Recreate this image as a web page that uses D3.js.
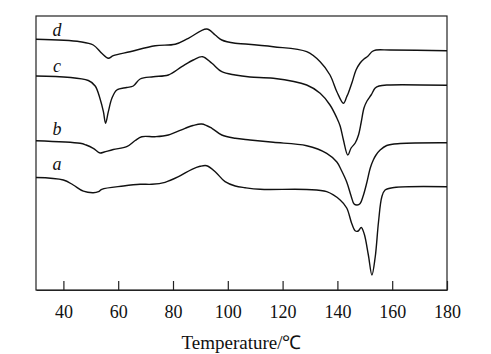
<!DOCTYPE html>
<html lang="en">
	<head>
		<meta charset="utf-8">
		<title>D3: DSC curves</title>
		<script src="https://d3js.org/d3.v7.min.js"></script>
		<style type="text/css">
			body { margin: 0; background: #fff; }
			text { font-family: "Liberation Serif", "Times New Roman", serif; fill: #111; }
		</style>
	</head>
	<body>
		<script type="text/javascript">

			// temperature (°C) and heat flow (a.u., curves stacked)
			var tempA = [30, 40.0, 43.6, 47.3, 50.9, 52.8, 54.0, 61.9, 68.0, 72.3, 77.1, 82.0, 86.9, 89.9, 92.3, 95.4, 99.0, 102.7, 106.3, 111.8, 128.8, 136.1, 141.0, 143.4, 145.3, 146.6, 147.6, 148.7, 149.8, 151.3, 152.6, 153.8, 155.0, 156.2, 157.4, 160.7, 180];
			var flowA = [112.5, 110, 105, 98.8, 97.3, 98.3, 100.7, 104, 105.7, 105.7, 107.7, 113.3, 120.7, 123.7, 124.3, 118.3, 108.3, 104, 102.3, 100.7, 100.5, 98.3, 90, 82, 66, 59, 59, 62.5, 56, 35, 15, 33, 68, 93, 100, 102.5, 103.3];

			var tempB = [30, 46.1, 48.3, 50.9, 53.4, 54.9, 58.2, 63.1, 66.2, 68.6, 73.5, 78.3, 84.4, 87.3, 90.5, 94.2, 97.8, 102.7, 108.1, 116.6, 128.8, 136.1, 139.8, 141.4, 143.4, 145.0, 146.1, 147.2, 148.3, 149.4, 150.7, 152.0, 153.1, 154.1, 155.6, 158.0, 162.9, 180];
			var flowB = [149.3, 146.7, 145, 141.7, 137, 138, 140.5, 143.3, 149.5, 153.3, 153.3, 155, 161.7, 164.5, 166, 161.7, 155, 151.7, 150, 147.7, 144.3, 136.7, 128, 120, 108, 94, 86, 85, 86.5, 94, 107, 122, 130, 135, 140, 144.5, 146.5, 147.3];

			var tempC = [30, 49.1, 51.6, 53.4, 54.6, 55.4, 56.4, 57.7, 59.5, 63.1, 65.5, 68.0, 72.8, 78.3, 83.2, 87.4, 90.8, 94.2, 97.8, 102.7, 108.1, 116.6, 128.8, 133.7, 137.3, 139.8, 141.0, 142.2, 143.8, 145.0, 146.5, 147.7, 148.7, 149.7, 150.8, 152.3, 153.8, 155.2, 158.2, 180];
			var flowC = [214, 209.5, 204, 191, 178.3, 166.7, 178.3, 191.7, 200, 202.5, 204, 211, 213.3, 215, 223.3, 230, 233.3, 226.7, 218.3, 215, 213, 211.7, 205, 196.7, 185, 172, 164, 150, 135, 142, 147, 155, 168, 182, 189, 195, 202, 204, 205, 204.7];

			var tempD = [30, 46.1, 50.9, 54.0, 56.4, 58.2, 64.3, 73.5, 80.8, 85.6, 92.3, 95.4, 97.8, 102.7, 106.4, 116.6, 128.8, 133.7, 137.3, 139.8, 142.2, 143.4, 144.0, 145.4, 146.8, 148.3, 149.7, 151.2, 152.7, 154.1, 159.2, 180];
			var flowD = [250.7, 248.3, 245, 236.7, 231.7, 234.3, 238.3, 244.3, 245.7, 251.7, 261, 255, 250, 246.7, 246, 243.3, 238.3, 228.3, 215, 198.3, 186.7, 193.3, 197, 208, 220, 227, 231, 234, 238.5, 240, 240, 239.3];

			var curveNames = ["a", "b", "c", "d"];
			var labelTemp = 37.7;
			var labelFlow = [120, 155, 218.3, 254];
			var xTicks = [40, 60, 80, 100, 120, 140, 160, 180];

			var series = [
				{name: "a", temp: tempA, flow: flowA},
				{name: "b", temp: tempB, flow: flowB},
				{name: "c", temp: tempC, flow: flowC},
				{name: "d", temp: tempD, flow: flowD}
			];

			var margin = {top: 16, right: 44, bottom: 64, left: 36},
				width = 491 - margin.left - margin.right,
				height = 354 - margin.top - margin.bottom;

			var svg = d3.select("body")
						.append("svg")
						.attr("width", width + margin.left + margin.right)
						.attr("height", height + margin.top + margin.bottom)
						.append("g")
						.attr("transform", "translate(" + margin.left + "," + margin.top + ")");

			var xscale = d3.scaleLinear()
				.domain([30, 180])
				.range([0, width]);

			var yscale = d3.scaleLinear()
				.domain([0, 274])
				.range([height, 0]);

			// frame
			svg.append("rect")
				.attr("x", 0)
				.attr("y", 0)
				.attr("width", width)
				.attr("height", height)
				.attr("fill", "none")
				.attr("stroke", "#222")
				.attr("stroke-width", 1.2);

			// x axis, ticks pointing inwards
			var xaxis = svg.append("g")
				.attr("transform", "translate(0," + height + ")")
				.call(d3.axisBottom(xscale)
					.tickValues(xTicks)
					.tickSizeInner(-9)
					.tickSizeOuter(0)
					.tickPadding(15));
			xaxis.select(".domain").attr("stroke", "#222").attr("stroke-width", 1.2);
			xaxis.selectAll(".tick line").attr("stroke", "#222").attr("stroke-width", 1.2);
			xaxis.selectAll("text")
				.attr("font-family", "'Liberation Serif', 'Times New Roman', serif")
				.style("font-size", "18px")
				.attr("fill", "#111");

			var line = d3.line()
				.x(function(d){ return xscale(d[0]); })
				.y(function(d){ return yscale(d[1]); })
				.curve(d3.curveCatmullRom.alpha(0.5));

			svg.selectAll("path.curve")
				.data(series)
				.enter()
				.append("path")
				.attr("class", "curve")
				.attr("d", function(s){
					return line(d3.zip(s.temp, s.flow));
				})
				.attr("fill", "none")
				.attr("stroke", "#111")
				.attr("stroke-width", 1.4);

			// curve letters
			svg.selectAll("text.lbl")
				.data(curveNames)
				.enter()
				.append("text")
				.attr("class", "lbl")
				.attr("x", xscale(labelTemp))
				.attr("y", function(d, i){ return yscale(labelFlow[i]); })
				.attr("text-anchor", "middle")
				.style("font-style", "italic")
				.style("font-size", "18px")
				.text(function(d){ return d; });

			//label for x-axis
			svg.append("text")
				.attr("x", width / 2)
				.attr("y", height + 59)
				.style("text-anchor", "middle")
				.style("font-size", "19px")
				.text("Temperature/\u2103");

		</script>
	</body>
</html>
